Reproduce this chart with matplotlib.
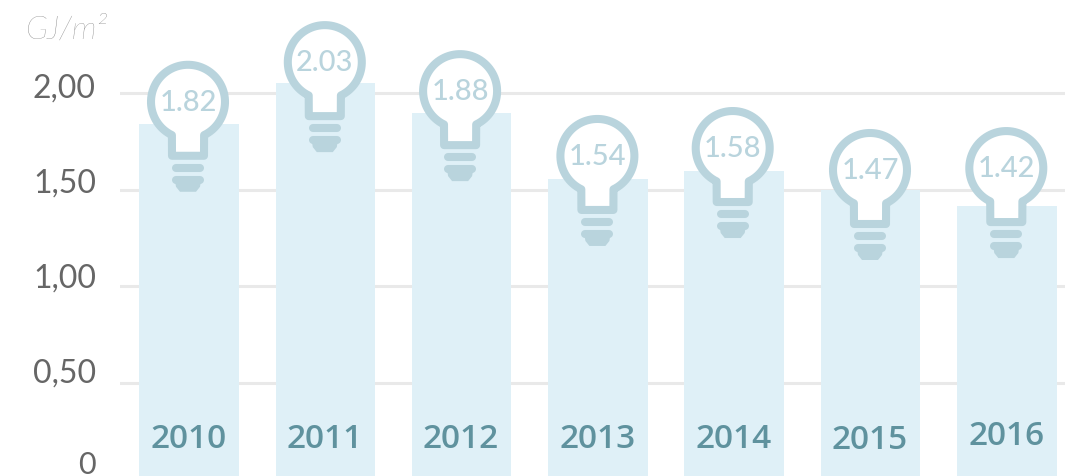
import matplotlib
matplotlib.use("Agg")
import matplotlib.pyplot as plt
import numpy as np
from matplotlib.patches import PathPatch
from matplotlib.path import Path
from matplotlib.transforms import Affine2D

years = ["2010", "2011", "2012", "2013", "2014", "2015", "2016"]
# the bars in the picture are not quite the printed values, so both are kept
bar_heights = [1.84, 2.05, 1.895, 1.555, 1.596, 1.498, 1.415]
value_labels = ["1.82", "2.03", "1.88", "1.54", "1.58", "1.47", "1.42"]
y_ticks = [0.5, 1.0, 1.5, 2.0]
y_labels = ["0,50", "1,00", "1,50", "2,00"]

# bulb centre relative to the bar top, in pixels
bulb_dx = [-1, -0.5, -1.5, -0.5, -1.5, -0.5, -0.5]
bulb_dy = [22, 21, 22, 23, 23, 20, 38]

BAR = "#dff0f7"
BULB = "#b9d4dd"
YEAR = "#5f929e"
GRID = "#e9e9e9"
TICK = "#666666"

W, H = 1065, 477
fig = plt.figure(figsize=(W / 100, H / 100), dpi=100)
ax = fig.add_axes([120 / W, 0, 945 / W, 1])
ax.set_xlim((120 - 189) / 136.3, (1065 - 189) / 136.3)
ax.set_ylim((481 - 477) / 193.6, 481 / 193.6)
for s in ax.spines.values():
    s.set_visible(False)
ax.set_xticks([])
ax.set_yticks(y_ticks)
ax.set_yticklabels([])
ax.tick_params(length=0)
ax.set_axisbelow(True)
ax.grid(axis="y", color=GRID, linewidth=2.2)

x = np.arange(len(years))
ax.bar(x, bar_heights, width=0.73, color=BAR, linewidth=0)


def bulb_paths():
    # y points down here, origin at the centre of the glass
    t = np.linspace(np.pi / 2 + 0.45, 2.5 * np.pi - 0.45, 80)
    glass = np.column_stack([37 * np.cos(t), 37 * np.sin(t)])
    neck = [[16, 54], [-16, 54]]
    outline = np.vstack([neck[1:], glass, neck[:1]])
    outline = np.vstack([outline, outline[:1]])
    codes = [Path.MOVETO] + [Path.LINETO] * (len(outline) - 2) + [Path.CLOSEPOLY]
    ring1 = Path([[-12, 66], [12, 66]])
    ring2 = Path([[-12, 78], [12, 78]])
    dome = Path([[-13, 79], [13, 79], [12, 85], [8, 90], [-8, 90], [-12, 85], [-13, 79]])
    return Path(outline, codes), ring1, ring2, dome


outline, ring1, ring2, dome = bulb_paths()
for i, h in enumerate(bar_heights):
    px, py = ax.transData.transform((x[i], h))
    tr = Affine2D().scale(1, -1).translate(px + bulb_dx[i], py + bulb_dy[i])
    ax.add_patch(PathPatch(outline, facecolor="white", edgecolor=BULB, linewidth=5.8,
                           joinstyle="round", transform=tr, zorder=3))
    for ring in (ring1, ring2):
        ax.add_patch(PathPatch(ring, fill=False, edgecolor=BULB, linewidth=5.8,
                               capstyle="round", transform=tr, zorder=3))
    ax.add_patch(PathPatch(dome, facecolor=BULB, edgecolor="none", transform=tr, zorder=3))
    ax.annotate(value_labels[i], (x[i], h), xytext=(bulb_dx[i] * 0.72, bulb_dy[i] * 0.72),
                textcoords="offset points", ha="center", va="center", fontsize=21,
                family="Lato", weight="medium", color=BULB, zorder=4)

year_dy = [0, 0, 0, 0, 0, -1, 3]
for i, year in enumerate(years):
    ax.annotate(year, (x[i], 0), xytext=(-0.5, (481 - 440 + year_dy[i]) * 0.72),
                textcoords="offset points", ha="center", va="center", fontsize=24,
                family="Open Sans", weight="semibold", color=YEAR,
                annotation_clip=False, zorder=4)

# tick labels sit a little above their gridlines, more so further down
for val, lab, up in zip(y_ticks, y_labels, [11, 9, 7, 5]):
    ax.annotate(lab, (0, val), xycoords=("axes fraction", "data"), xytext=(-24 * 0.72, up * 0.72),
                textcoords="offset points", ha="right", va="center", fontsize=23,
                family="Lato", color=TICK, annotation_clip=False)
ax.annotate("0", (0, 0), xycoords=("axes fraction", "data"), xytext=(-24 * 0.72, 16 * 0.72),
            textcoords="offset points", ha="right", va="center", fontsize=22,
            family="Lato", color=TICK, annotation_clip=False)
fig.text(67 / W, 1 - 30 / H, "GJ/m²", ha="center", va="center", fontsize=23,
         family="Lato", style="italic", weight="light", color="#707070")

fig.savefig("out.png", dpi=100)
